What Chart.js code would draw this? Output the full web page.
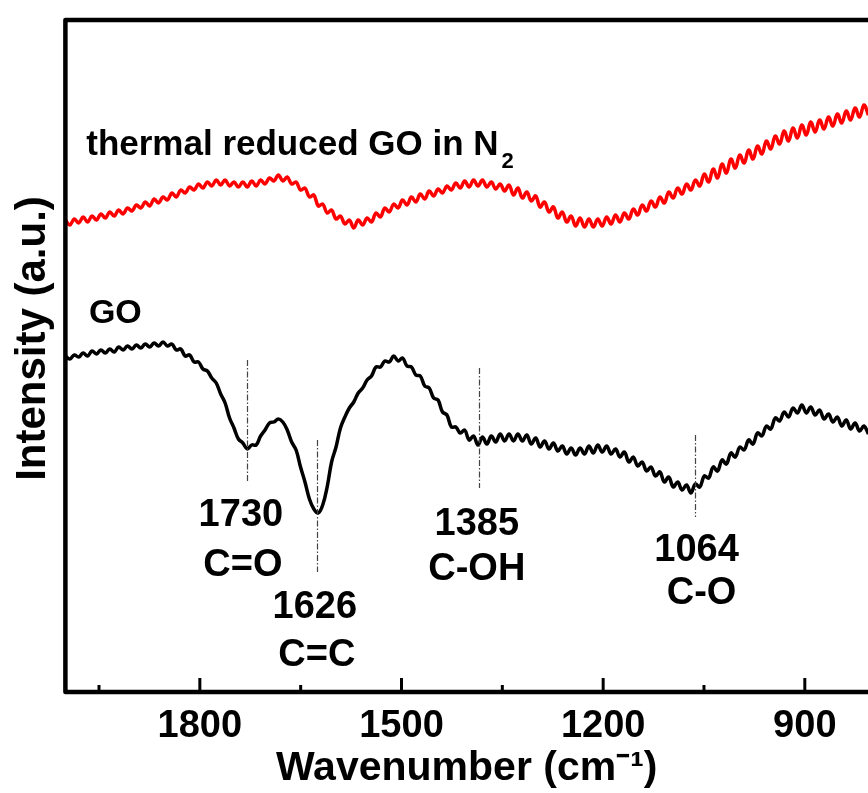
<!DOCTYPE html>
<html><head><meta charset="utf-8">
<script src="https://cdn.jsdelivr.net/npm/chart.js@4.4.1/dist/chart.umd.min.js"></script>
<style>html,body{margin:0;padding:0;background:#fff;overflow:hidden}#wrap{width:868px;height:793px;position:relative}</style>
</head><body><div id="wrap"><canvas id="c"></canvas></div>
<script>
// spectrum sampling grid (cm-1), points run from high to low wavenumber
const WN_START = 2000, WN_STEP = 6.6;
// thermal reduced GO in N2 (a.u.)
const rGO = [
472,467,473,469,475,470,476,472,478,474,
480,476,482,478,484,481,487,484,490,486,
493,489,495,492,499,495,502,499,505,502,
508,504,510,506,512,507,512,506,510,505,
510,505,511,506,512,508,514,511,517,511,
515,508,510,502,504,495,497,486,488,479,
482,473,476,468,472,464,472,467,474,470,
479,475,484,480,488,484,492,487,495,490,
498,493,501,496,503,499,506,502,509,504,
511,505,512,506,512,505,510,503,508,501,
507,497,504,494,500,491,496,485,490,480,
485,474,480,470,476,466,474,465,473,465,
473,466,475,468,477,470,479,473,483,477,
487,481,491,485,495,489,500,494,504,498,
508,502,512,506,518,510,523,514,528,519,
533,524,537,529,542,533,546,538,551,543,
556,548,561,551,564,554,567,557,570,560,
572,563,575,566,578,569,581,572,584,575,
587,577];
// GO (a.u.)
const GO = [
336,333,337,335,339,336,341,338,342,339,
343,340,345,342,346,343,347,344,348,345,
349,346,350,346,348,342,343,336,337,330,
330,323,321,314,309,298,289,274,264,253,
249,243,247,247,256,262,269,270,273,270,
262,250,242,225,210,193,183,179,187,205,
230,245,264,275,284,290,299,304,312,316,
325,325,331,330,336,331,334,326,325,317,
316,306,304,294,292,280,277,265,265,259,
262,252,256,247,255,248,256,250,258,251,
258,251,258,251,257,248,254,245,251,243,
249,241,246,238,244,237,244,238,246,239,
247,240,246,238,243,235,240,230,235,226,
230,221,225,216,220,210,215,205,210,202,
207,199,208,205,216,214,225,221,232,228,
239,235,245,242,252,248,259,256,266,263,
274,271,280,275,284,279,287,279,285,277,
282,273,278,270,275,266,272,263,269,261,
266,258];
const majorTicks = [1800, 1500, 1200, 900];
const minorTicks = [1950, 1650, 1350, 1050];
const peakWn = [1730, 1626, 1385, 1064];
const peakBond = ['C=O', 'C=C', 'C-OH', 'C-O'];
const peakLineTop = [332, 252, 324, 257];
const peakLineBottom = [209, 120, 204, 175];
const seriesNames = ['thermal reduced GO in N', 'GO'];
const seriesSub = ['2', ''];

const FONT = '"Liberation Sans", Arial, Helvetica, sans-serif';
Chart.defaults.font.family = FONT;
Chart.defaults.font.weight = 'bold';
Chart.defaults.color = '#000';

const toPts = arr => arr.map((v, i) => ({x: WN_START - i * WN_STEP, y: v}));

const annotate = {
  id: 'annotate',
  afterDatasetsDraw(chart, args, opts) {
    const {ctx, scales: {x, y}} = chart;
    ctx.save();
    ctx.strokeStyle = '#444';
    ctx.lineWidth = 1.2;
    ctx.setLineDash([6, 2, 1.5, 2]);
    peakWn.forEach((wn, i) => {
      const px = Math.round(x.getPixelForValue(wn)) + 0.5;
      ctx.beginPath();
      ctx.moveTo(px, y.getPixelForValue(peakLineTop[i]));
      ctx.lineTo(px, y.getPixelForValue(peakLineBottom[i]));
      ctx.stroke();
    });
    ctx.setLineDash([]);
    ctx.fillStyle = '#000';
    ctx.textAlign = 'center';
    ctx.textBaseline = 'middle';
    ctx.font = 'bold 38px ' + FONT;
    peakWn.forEach((wn, i) => {
      const p = opts.peakLabels[i];
      const px = x.getPixelForValue(wn);
      ctx.fillText(String(wn), px + p.dxNum, y.getPixelForValue(p.yNum));
      ctx.fillText(peakBond[i], px + p.dxBond, y.getPixelForValue(p.yBond));
    });
    ctx.textAlign = 'left';
    ctx.textBaseline = 'alphabetic';
    opts.names.forEach((n, i) => {
      ctx.font = 'bold ' + n.size + 'px ' + FONT;
      const px = x.getPixelForValue(n.wn), py = y.getPixelForValue(n.v);
      ctx.fillText(seriesNames[i], px, py);
      if (seriesSub[i]) {
        const w = ctx.measureText(seriesNames[i]).width;
        ctx.font = 'bold ' + n.subSize + 'px ' + FONT;
        ctx.fillText(seriesSub[i], px + w + 3, py + n.subDrop);
      }
    });
    ctx.restore();
  },
  afterDraw(chart) {
    const {ctx, chartArea: ca, scales: {x}} = chart;
    ctx.save();
    ctx.strokeStyle = '#000';
    ctx.lineWidth = 3;
    ctx.lineCap = 'butt';
    majorTicks.forEach(v => {
      const px = x.getPixelForValue(v);
      ctx.beginPath(); ctx.moveTo(px, ca.bottom); ctx.lineTo(px, ca.bottom - 14); ctx.stroke();
    });
    minorTicks.forEach(v => {
      const px = x.getPixelForValue(v);
      ctx.beginPath(); ctx.moveTo(px, ca.bottom); ctx.lineTo(px, ca.bottom - 7); ctx.stroke();
    });
    ctx.lineWidth = 4.5;
    ctx.lineJoin = 'round';
    ctx.beginPath();
    ctx.moveTo(chart.width + 5, ca.top);
    ctx.lineTo(ca.left, ca.top);
    ctx.lineTo(ca.left, ca.bottom);
    ctx.lineTo(chart.width + 5, ca.bottom);
    ctx.stroke();
    ctx.restore();
  }
};

new Chart(document.getElementById('c'), {
  type: 'line',
  data: {
    datasets: [
      {label: 'thermal reduced GO in N2', data: toPts(rGO), borderColor: '#ff0000', borderWidth: 3.5, pointRadius: 0, tension: 0.4, fill: false},
      {label: 'GO', data: toPts(GO), borderColor: '#000000', borderWidth: 3.5, pointRadius: 0, tension: 0.4, fill: false}
    ]
  },
  options: {
    responsive: true,
    maintainAspectRatio: false,
    animation: false,
    devicePixelRatio: 1,
    layout: {padding: {top: 20, left: 0, right: 0, bottom: 0}},
    plugins: {
      legend: {display: false},
      tooltip: {enabled: false},
      annotate: {
        peakLabels: [
          {dxNum: -6, yNum: 176, dxBond: -4, yBond: 126},
          {dxNum: -2, yNum: 84, dxBond: 0, yBond: 36},
          {dxNum: -2, yNum: 167, dxBond: -2, yBond: 122},
          {dxNum: 2, yNum: 141, dxBond: 7, yBond: 98}
        ],
        names: [
          {wn: 1969, v: 537, size: 35, subSize: 22, subDrop: 13},
          {wn: 1965, v: 369, size: 34}
        ]
      }
    },
    scales: {
      x: {
        type: 'linear', reverse: true, min: 806, max: 2000,
        afterBuildTicks: ax => { ax.ticks = majorTicks.map(v => ({value: v})); },
        grid: {display: false, drawTicks: false},
        border: {display: false},
        ticks: {padding: 16, color: '#000', autoSkip: false, maxRotation: 0, callback: v => String(v), font: {size: 38, weight: 'bold', lineHeight: 1}},
        title: {display: true, text: 'Wavenumber (cm\u207B\u00B9)', color: '#000', font: {size: 41, weight: 'bold', lineHeight: '14px'}, padding: {top: 0, bottom: 17}}
      },
      y: {
        min: 0, max: 672,
        grid: {display: false, drawTicks: false},
        border: {display: false},
        ticks: {display: false},
        title: {display: true, text: '   Intensity (a.u.)', color: '#000', font: {size: 42, weight: 'bold', lineHeight: 1.2}, padding: {top: 8, bottom: 7}}
      }
    }
  },
  plugins: [annotate]
});
</script>
</body></html>
